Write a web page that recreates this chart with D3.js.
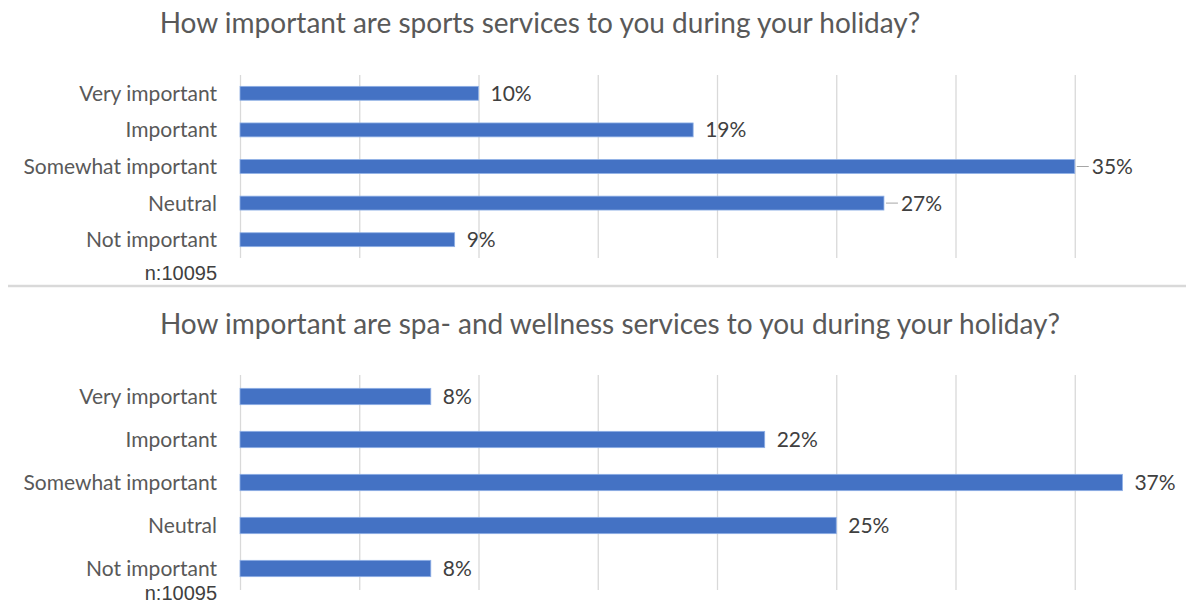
<!DOCTYPE html>
<html>
<head>
<meta charset="utf-8">
<script src="https://cdn.jsdelivr.net/npm/d3@7"></script>
<style>
  html, body { margin: 0; padding: 0; background: #fff; }
  svg { display: block; }
</style>
</head>
<body>
<svg id="chart" width="1186" height="603"></svg>
<script>
// Survey answers, shared by both questions
const categories = ["Very important", "Important", "Somewhat important", "Neutral", "Not important"];

// Share of respondents (%) for each answer
const sportsValues = [10, 19, 35, 27, 9];
const spaValues = [8, 22, 37, 25, 8];

const titles = [
  "How important are sports services to you during your holiday?",
  "How important are spa- and wellness services to you during your holiday?"
];
const sampleNote = "n:10095";
const gridTicks = [0, 5, 10, 15, 20, 25, 30, 35, 40];

const svg = d3.select("#chart");
const textColor = "#595959";
const labelColor = "#404040";
const barColor = "#4472C4";
const font = "Lato, 'Open Sans', sans-serif";
const noteFont = "'Liberation Sans', Arial, sans-serif";

const x = d3.scaleLinear().domain([0, 40]).range([240, 1194]);

const panels = [
  { title: titles[0], values: sportsValues, titleX: 540, titleY: 33, top: 75, bottom: 258, noteY: 280, leaders: [2, 3] },
  { title: titles[1], values: spaValues, titleX: 610, titleY: 334, top: 375, bottom: 590, noteY: 600, leaders: [] }
];

panels.forEach(p => {
  const g = svg.append("g");
  const y = d3.scaleBand().domain(categories).range([p.top, p.bottom]).paddingInner(0.62).paddingOuter(0.31);

  // vertical gridlines
  const grid = d3.axisBottom(x).tickValues(gridTicks).tickSize(-(p.bottom - p.top)).tickFormat("");
  g.append("g")
    .attr("transform", `translate(0,${p.bottom})`)
    .call(grid)
    .call(s => s.select(".domain").remove())
    .call(s => s.selectAll(".tick line").attr("stroke", "#d9d9d9").attr("stroke-width", 1.3));

  // category axis
  const yAxis = d3.axisLeft(y).tickSize(0).tickPadding(0);
  g.append("g")
    .attr("transform", "translate(217,0)")
    .call(yAxis)
    .call(s => s.select(".domain").remove())
    .call(s => s.selectAll("text")
      .attr("fill", textColor)
      .attr("dy", "0.36em")
      .style("font-family", font)
      .style("font-size", "21px"));

  // bars
  g.selectAll("rect.bar")
    .data(p.values)
    .join("rect")
    .attr("class", "bar")
    .attr("x", x(0))
    .attr("y", (d, i) => y(categories[i]))
    .attr("width", d => x(d) - x(0))
    .attr("height", y.bandwidth())
    .attr("fill", barColor)
    .attr("stroke", "#8fb0e6")
    .attr("stroke-width", 0.8);

  // leader lines for labels set off from their bar
  g.selectAll("line.leader")
    .data(p.leaders)
    .join("line")
    .attr("class", "leader")
    .attr("x1", i => x(p.values[i]) + 2)
    .attr("x2", i => x(p.values[i]) + 14)
    .attr("y1", i => y(categories[i]) + y.bandwidth() / 2)
    .attr("y2", i => y(categories[i]) + y.bandwidth() / 2)
    .attr("stroke", "#a6a6a6")
    .attr("stroke-width", 1);

  // value labels
  g.selectAll("text.val")
    .data(p.values)
    .join("text")
    .attr("class", "val")
    .attr("x", (d, i) => x(d) + (p.leaders.includes(i) ? 17 : 12))
    .attr("y", (d, i) => y(categories[i]) + y.bandwidth() / 2)
    .attr("dy", "0.36em")
    .attr("fill", labelColor)
    .style("font-family", font)
    .style("font-size", "21px")
    .text(d => d + "%");

  // title
  g.append("text")
    .attr("x", p.titleX)
    .attr("y", p.titleY)
    .attr("text-anchor", "middle")
    .attr("fill", textColor)
    .style("font-family", font)
    .style("font-size", "28px")
    .text(p.title);

  // sample size
  g.append("text")
    .attr("x", 217)
    .attr("y", p.noteY)
    .attr("text-anchor", "end")
    .attr("fill", labelColor)
    .style("font-family", noteFont)
    .style("font-size", "20px")
    .text(sampleNote);
});

// divider between the two questions
svg.append("line")
  .attr("x1", 8).attr("x2", 1186)
  .attr("y1", 286).attr("y2", 286)
  .attr("stroke", "#d9d9d9")
  .attr("stroke-width", 2.5);
</script>
</body>
</html>
